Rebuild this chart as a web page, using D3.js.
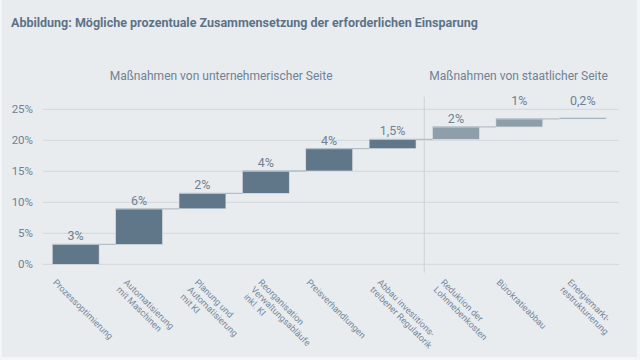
<!DOCTYPE html>
<html>
<head>
<meta charset="utf-8">
<script src="https://cdn.jsdelivr.net/npm/d3@7"></script>
<style>
  body { margin: 0; background: #f4f5f7; }
  svg { display: block; font-family: Roboto, "Noto Sans", sans-serif; }
</style>
</head>
<body>
<div id="chart"></div>
<script>
// Massnahmen, Zeilenumbruch mit "|"
var categories = [
  "Prozessoptimierung",
  "Automatisierung|mit Maschinen",
  "Planung und|Automatisierung|mit KI",
  "Reorganisation|Verwaltungsabläufe|inkl. KI",
  "Preisverhandlungen",
  "Abbau investitions-|treibener Regulatorik",
  "Reduktion der|Lohnnebenkosten",
  "Bürokratieabbau",
  "Energiemarkt-|restrukturierung"
];
var values = [3.2, 5.75, 2.5, 3.6, 3.6, 1.5, 2.0, 1.3, 0.2];
var valueLabels = ["3%", "6%", "2%", "4%", "4%", "1,5%", "2%", "1%", "0,2%"];
var side = ["u", "u", "u", "u", "u", "u", "s", "s", "s"];
var yTicks = [0, 5, 10, 15, 20, 25];
var groupTitles = ["Maßnahmen von unternehmerischer Seite", "Maßnahmen von staatlicher Seite"];
var title = "Abbildung: Mögliche prozentuale Zusammensetzung der erforderlichen Einsparung";

var w = 640, h = 360;
var svg = d3.select("#chart").append("svg")
  .attr("width", w)
  .attr("height", h);

svg.append("rect")
  .attr("x", 2).attr("y", 0)
  .attr("width", 635).attr("height", 357)
  .attr("fill", "#e9ecef");

// kumulierte Werte fuer den Wasserfall
var ends = [];
var starts = [];
values.reduce(function(acc, v) {
  starts.push(acc);
  ends.push(acc + v);
  return acc + v;
}, 0);

var x = d3.scaleBand()
  .domain(categories)
  .range([44, 614.4])
  .paddingInner(0.26)
  .paddingOuter(0.13);
var y = d3.scaleLinear()
  .domain([0, 25])
  .range([264.3, 109.3]);
var bw = x.bandwidth();

// Gitterlinien
svg.selectAll(".grid")
  .data(yTicks)
  .enter().append("line")
  .attr("x1", 43).attr("x2", 619)
  .attr("y1", function(d) { return y(d); })
  .attr("y2", function(d) { return y(d); })
  .attr("stroke", "#d2d7dc")
  .attr("stroke-width", 1);

svg.selectAll(".ytick")
  .data(yTicks)
  .enter().append("text")
  .attr("x", 33)
  .attr("y", function(d) { return y(d); })
  .attr("dy", "0.35em")
  .attr("text-anchor", "end")
  .attr("font-size", 11.5)
  .attr("fill", "#6f8192")
  .text(function(d) { return d + "%"; });

// Trennlinie zwischen den Gruppen
var sepX = (x(categories[5]) + bw + x(categories[6])) / 2;
svg.append("line")
  .attr("x1", sepX).attr("x2", sepX)
  .attr("y1", 96.7).attr("y2", 272.7)
  .attr("stroke", "#cdd2d7")
  .attr("stroke-width", 1);

svg.selectAll(".bar")
  .data(categories)
  .enter().append("rect")
  .attr("x", function(d) { return x(d); })
  .attr("width", bw)
  .attr("y", function(d, i) { return y(ends[i]); })
  .attr("height", function(d, i) { return Math.max(1.3, y(starts[i]) - y(ends[i])); })
  .attr("fill", function(d, i) { return side[i] == "u" ? "#607789" : "#8e9fab"; })
  .attr("stroke", "#dde2e6")
  .attr("stroke-width", 0.6);

// Verbindungslinien
svg.selectAll(".conn")
  .data(categories.slice(0, -1))
  .enter().append("line")
  .attr("x1", function(d) { return x(d); })
  .attr("x2", function(d, i) { return x(categories[i + 1]); })
  .attr("y1", function(d, i) { return y(ends[i]); })
  .attr("y2", function(d, i) { return y(ends[i]); })
  .attr("stroke", "#b4bec6")
  .attr("stroke-width", 1.3);

// Wertbeschriftungen
svg.selectAll(".val")
  .data(valueLabels)
  .enter().append("text")
  .attr("x", function(d, i) { return x(categories[i]) + bw / 2; })
  .attr("y", function(d, i) {
    var yy = y(ends[i]) - 4;
    if (yy - 9 < y(25) + 1) yy = Math.min(yy, y(25) - 4);
    return yy;
  })
  .attr("text-anchor", "middle")
  .attr("font-size", 12.5)
  .attr("fill", "#6f8192")
  .text(function(d) { return d; });

// Achsenbeschriftungen, 45 Grad gedreht
var lh = 10.3;
var lab = svg.selectAll(".xlab")
  .data(categories)
  .enter().append("g")
  .attr("transform", function(d) {
    var n = d.split("|").length;
    var cx = x(d) + bw / 2 - 23.3 + 7.6 * (n - 1);
    return "translate(" + cx + ",283) rotate(45)";
  });
lab.selectAll("text")
  .data(function(d) { return d.split("|"); })
  .enter().append("text")
  .attr("x", 0)
  .attr("y", function(d, i) { return i * lh; })
  .attr("font-size", 9)
  .attr("fill", "#75879a")
  .text(function(d) { return d; });

// Gruppentitel
svg.append("text")
  .attr("x", (sepX + 18) / 2)
  .attr("y", 80)
  .attr("text-anchor", "middle")
  .attr("font-size", 12)
  .attr("fill", "#6f8295")
  .text(groupTitles[0]);
svg.append("text")
  .attr("x", sepX + 5)
  .attr("y", 80)
  .attr("font-size", 12)
  .attr("fill", "#6f8295")
  .text(groupTitles[1]);

var t = svg.append("text")
  .attr("x", 11)
  .attr("y", 27)
  .attr("font-size", 12.5)
  .attr("font-weight", "bold")
  .attr("fill", "#5d7387")
  .text(title);
var len = t.node().getComputedTextLength();
if (Math.abs(len - 464) > 8) {
  t.attr("textLength", 464).attr("lengthAdjust", "spacingAndGlyphs");
}
</script>
</body>
</html>
